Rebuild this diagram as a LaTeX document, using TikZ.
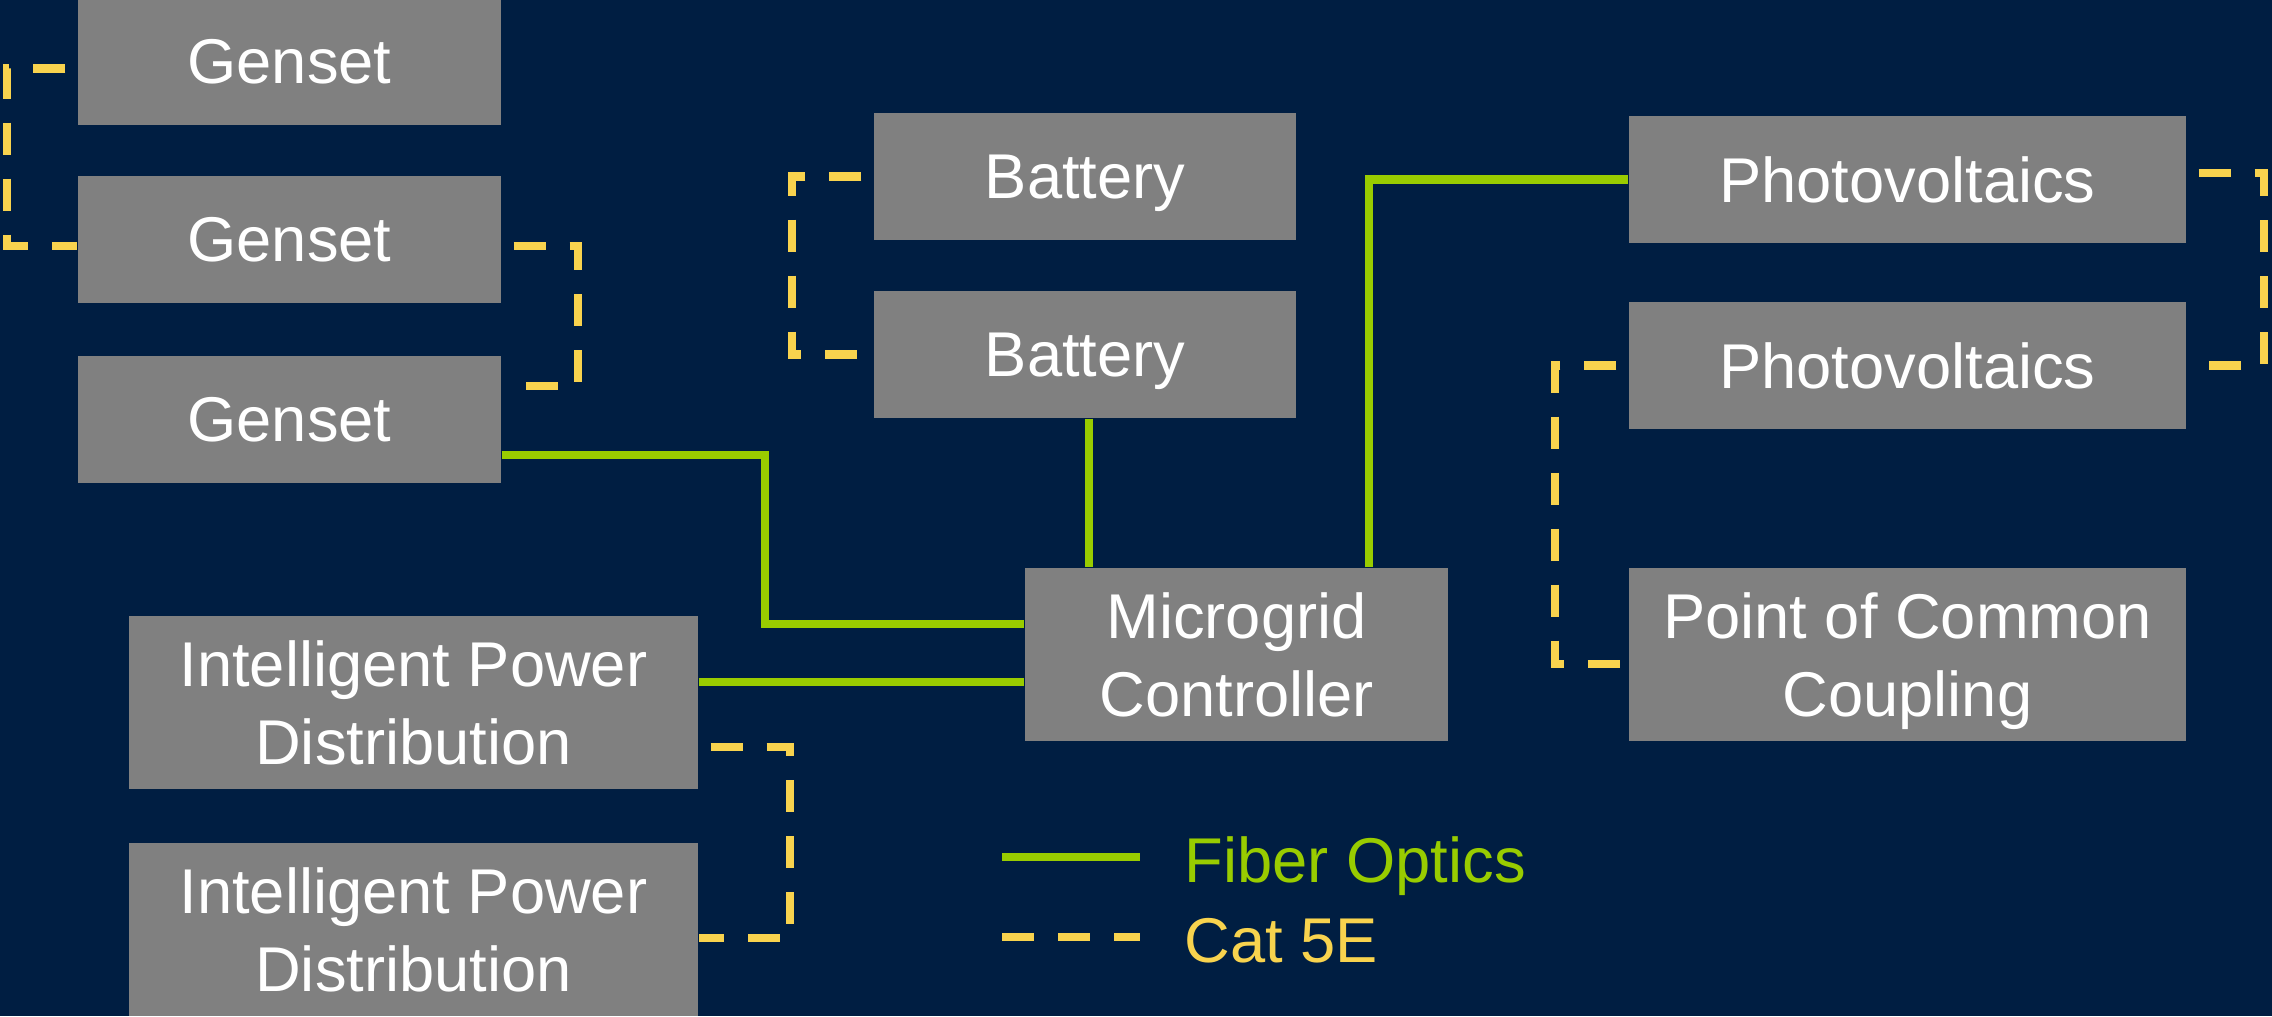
\documentclass[tikz,border=0pt]{standalone}
\usepackage{fontspec}
\setmainfont{Liberation Sans}
\usetikzlibrary{positioning}
\definecolor{navy}{HTML}{001E42}
\definecolor{boxgray}{HTML}{808080}
\definecolor{fibre}{HTML}{99CC00}
\definecolor{catfive}{HTML}{F8D34E}

\begin{document}
\begin{tikzpicture}[box/.style={fill=boxgray,text=white,align=center,inner sep=0pt,text depth=0pt,font=\fontsize{18}{22}\selectfont},
  fiber/.style={draw=fibre,line width=2.3pt},
  cat/.style={draw=catfive,line width=2.3pt,dash pattern=on 0.32cm off 0.24cm,dash phase=0.44cm},
  legend/.style={anchor=base west,inner sep=0pt,font=\fontsize{18}{22}\selectfont}]
\fill[navy] (0,0) rectangle (22.72,-10.16);
\useasboundingbox (0,0) rectangle (22.72,-10.16);
\node[box,minimum width=4.23cm,minimum height=1.27cm] (gen1) at (2.895,-0.615) {Genset};
\node[box,minimum width=4.23cm,minimum height=1.27cm] (gen2) at (2.895,-2.395) {Genset};
\node[box,minimum width=4.23cm,minimum height=1.27cm] (gen3) at (2.895,-4.195) {Genset};
\node[box,minimum width=4.22cm,minimum height=1.27cm] (bat1) at (10.85,-1.765) {Battery};
\node[box,minimum width=4.22cm,minimum height=1.27cm] (bat2) at (10.85,-3.545) {Battery};
\node[box,minimum width=4.23cm,minimum height=1.73cm] (ctrl) at (12.365,-6.545) {Microgrid\\Controller};
\node[box,minimum width=5.69cm,minimum height=1.73cm] (ipd1) at (4.135,-7.025) {Intelligent Power\\Distribution};
\node[box,minimum width=5.69cm,minimum height=1.73cm] (ipd2) at (4.135,-9.295) {Intelligent Power\\Distribution};
\node[box,minimum width=5.57cm,minimum height=1.27cm] (pv1) at (19.075,-1.795) {Photovoltaics};
\node[box,minimum width=5.57cm,minimum height=1.27cm] (pv2) at (19.075,-3.655) {Photovoltaics};
\node[box,minimum width=5.57cm,minimum height=1.73cm] (pcc) at (19.075,-6.545) {Point of Common\\Coupling};
\draw[cat] ([yshift=-0.07cm]gen1.west) -- ++(-0.70,0) |- ([yshift=-0.065cm]gen2.west);
\draw[cat] ([yshift=-0.065cm]gen2.east) -- ++(0.76,0) |- ([yshift=0.335cm]gen3.east);
\draw[fiber] ([yshift=-0.355cm]gen3.east) -- ++(2.63,0) |- ([yshift=0.305cm]ctrl.west);
\draw[fiber] ([yshift=0.205cm]ipd1.east) -- ([yshift=0.205cm]ipd1.east -| ctrl.west);
\draw[cat] ([yshift=-0.445cm]ipd1.east) -- ++(0.91,0) |- ([yshift=-0.085cm]ipd2.east);
\draw[cat] (bat1.west) -- ++(-0.81,0) |- (bat2.west);
\draw[fiber] ([xshift=0.04cm]bat2.south) -- ([xshift=0.04cm]bat2.south |- ctrl.north);
\draw[fiber] ([xshift=1.325cm]ctrl.north) |- (pv1.west);
\draw[cat] ([yshift=0.065cm]pv1.east) -- ++(0.77,0) |- (pv2.east);
\draw[cat] (pv2.west) -- ++(-0.73,0) |- ([yshift=-0.095cm]pcc.west);
\coordinate (fa) at (10.02,-8.57);
\coordinate (fb) at (11.40,-8.57);
\draw[fiber] (fa) -- (fb);
\node[legend,text=fibre] (fl) at ([xshift=0.44cm,yshift=-0.25cm]fb) {Fiber Optics};
\coordinate (ca) at (10.02,-9.37);
\coordinate (cb) at (11.40,-9.37);
\draw[cat,dash phase=0cm] (ca) -- (cb);
\node[legend,text=catfive] (cl) at ([xshift=0.44cm,yshift=-0.25cm]cb) {Cat 5E};
\end{tikzpicture}
\end{document}
